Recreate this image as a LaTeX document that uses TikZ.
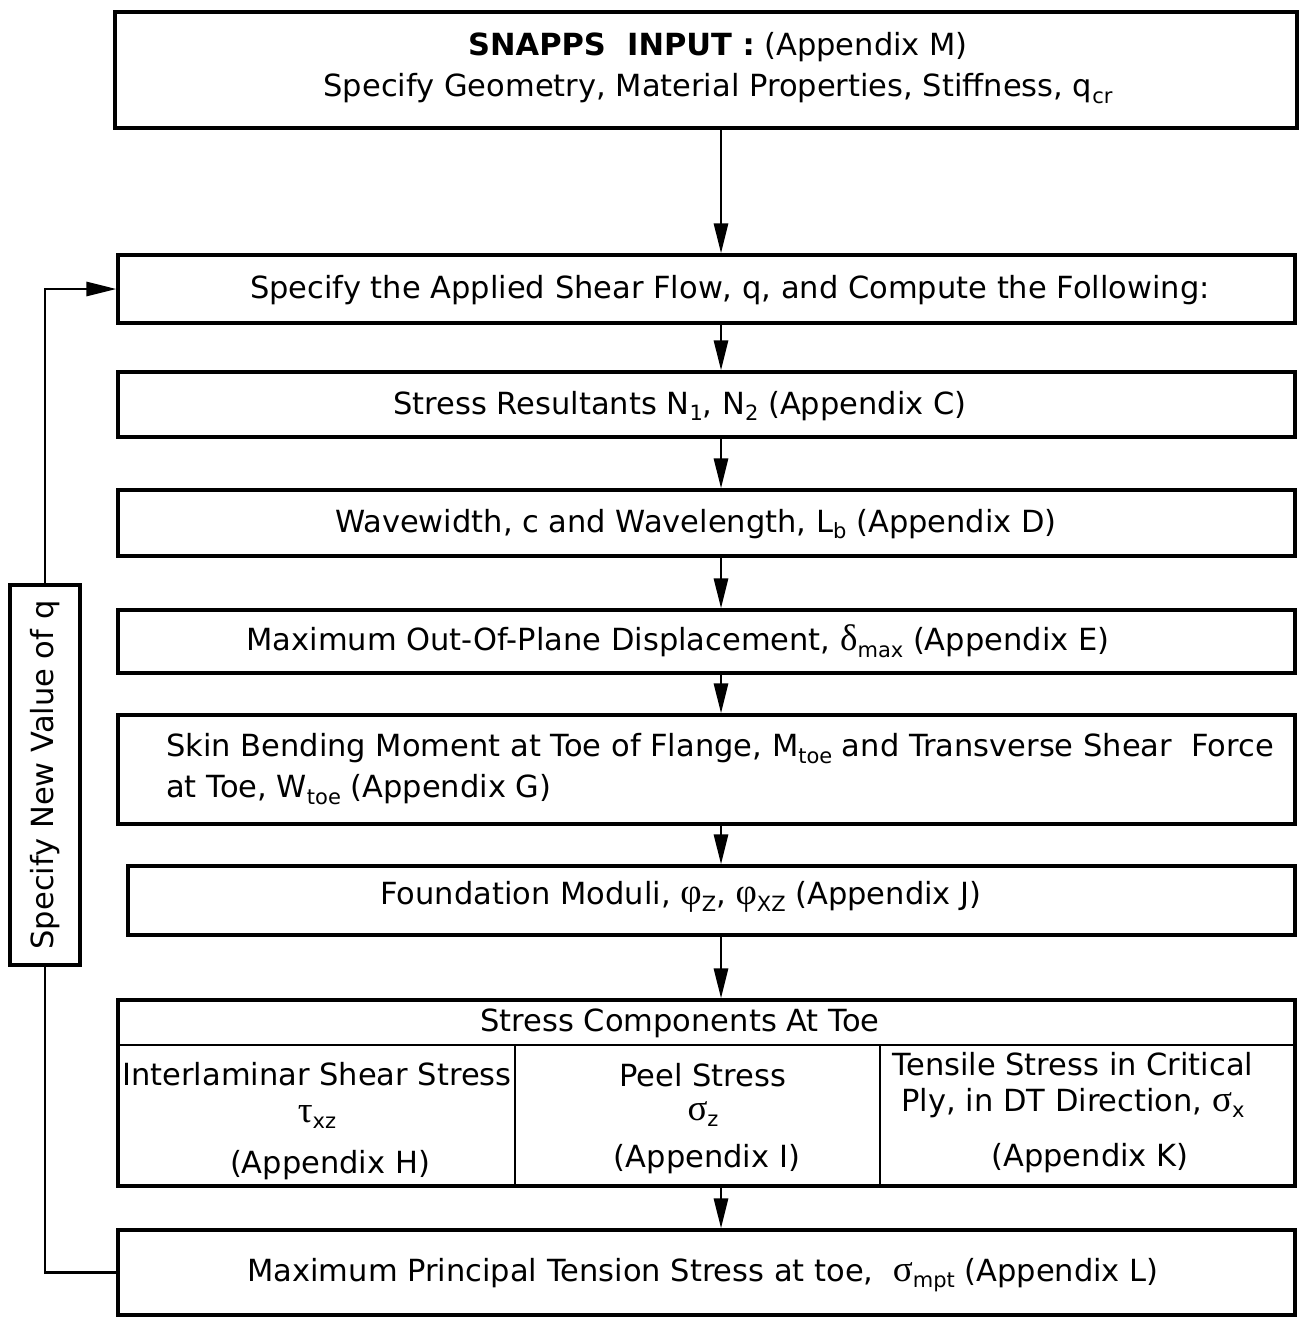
\documentclass[tikz,border=0pt]{standalone}
\usepackage{fontspec}
\setmainfont{DejaVu Sans}
\newfontfamily\grk{Liberation Serif}
\usetikzlibrary{arrows.meta}
\newcommand\lo[1]{\raisebox{-0.4ex}{\fontsize{21}{21}\selectfont #1}}
\newcommand\gk[1]{{\grk\fontsize{37}{37}\selectfont #1}}
\begin{document}
\begin{tikzpicture}[x=1pt,y=-1pt,
  box/.style={draw,line width=3.2pt,inner sep=0pt,rectangle},
  txt/.style={inner sep=0pt,font=\fontsize{30.5}{41}\selectfont,align=center},
  arr/.style={line width=2.8pt,-{Triangle[length=30pt,width=14pt]}},
  ln/.style={line width=2.8pt}]
\useasboundingbox (0,0) rectangle (1308,1317);
\coordinate (ax) at (721,0);
% boxes
\node[box,minimum width=1182pt,minimum height=116pt] (b1) at (706,70) {};
\node[box,minimum width=1177pt,minimum height=68pt] (b2) at (706.5,289) {};
\node[box,minimum width=1177pt,minimum height=65pt] (b3) at (706.5,404.5) {};
\node[box,minimum width=1177pt,minimum height=66pt] (b4) at (706.5,523) {};
\node[box,minimum width=1177pt,minimum height=63pt] (b5) at (706.5,641.5) {};
\node[box,minimum width=1177pt,minimum height=109pt] (b6) at (706.5,769.5) {};
\node[box,minimum width=1167pt,minimum height=69pt] (b7) at (711.5,900.5) {};
\node[box,minimum width=1177pt,minimum height=186pt] (b8) at (706.5,1093) {};
\node[box,minimum width=1177pt,minimum height=85pt] (b9) at (706.5,1272.5) {};
\node[box,minimum width=380pt,minimum height=70pt,rotate=90,fill=white] (lab) at (45,775) {};
% table lines
\coordinate (hl) at (0,1045);
\coordinate (d1) at (515,0);
\coordinate (d2) at (880,0);
\draw[ln] (b8.west |- hl) -- (b8.east |- hl);
\draw[ln] (d1 |- hl) -- (d1 |- b8.south);
\draw[ln] (d2 |- hl) -- (d2 |- b8.south);
% texts
\node[txt] (t1) at (718,68) {{\bfseries SNAPPS\ \ INPUT :} (Appendix M)\\Specify Geometry, Material Properties, Stiffness, q\lo{cr}};
\node[txt] (t2) at (730,290) {Specify the Applied Shear Flow, q, and Compute the Following:};
\node[txt] (t3) at (680,406) {Stress Resultants N\lo{1}, N\lo{2} (Appendix C)};
\node[txt] (t4) at (696,524) {Wavewidth, c and Wavelength, L\lo{b} (Appendix D)};
\node[txt] (t5) at (678,641) {Maximum Out-Of-Plane Displacement, \gk{δ}\lo{max} (Appendix E)};
\node[txt,align=left,anchor=west] (t6) at (166,769) {Skin Bending Moment at Toe of Flange, M\lo{toe} and Transverse Shear\ \ Force\\at Toe, W\lo{toe} (Appendix G)};
\node[txt] (t7) at (681,897) {Foundation Moduli, \gk{φ}\lo{Z}, \gk{φ}\lo{XZ} (Appendix J)};
\node[txt] (t8) at (680,1023) {Stress Components At Toe};
\node[txt] (c1a) at (317,1074) {Interlaminar Shear Stress};
\node[txt] (c1b) at (317,1117) {\gk{τ}\lo{xz}};
\node[txt] (c1c) at (330,1165) {(Appendix H)};
\node[txt] (c2a) at (703,1075) {Peel Stress};
\node[txt] (c2b) at (703,1114) {\gk{σ}\lo{z}};
\node[txt] (c2c) at (707,1159) {(Appendix I)};
\node[txt] (c3a) at (1073,1064) {Tensile Stress in Critical};
\node[txt] (c3b) at (1073,1103) {Ply, in DT Direction, \gk{σ}\lo{x}};
\node[txt] (c3c) at (1090,1158) {(Appendix K)};
\node[txt] (t9) at (703,1275) {Maximum Principal Tension Stress at toe,\ \ \gk{σ}\lo{mpt} (Appendix L)};
\node[txt,rotate=90] (tl) at (45,775) {Specify New Value of q};
% connectors
\draw[arr] (b1.south -| ax) -- (b2.north -| ax);
\draw[arr] (b2.south -| ax) -- (b3.north -| ax);
\draw[arr] (b3.south -| ax) -- (b4.north -| ax);
\draw[arr] (b4.south -| ax) -- (b5.north -| ax);
\draw[arr] (b5.south -| ax) -- (b6.north -| ax);
\draw[arr] (b6.south -| ax) -- (b7.north -| ax);
\draw[arr] (b7.south -| ax) -- (b8.north -| ax);
\draw[arr] (b8.south -| ax) -- (b9.north -| ax);
\draw[ln] (b9.west) -| (lab.west);
\draw[arr] (lab.east) |- (b2.west);
\end{tikzpicture}
\end{document}
